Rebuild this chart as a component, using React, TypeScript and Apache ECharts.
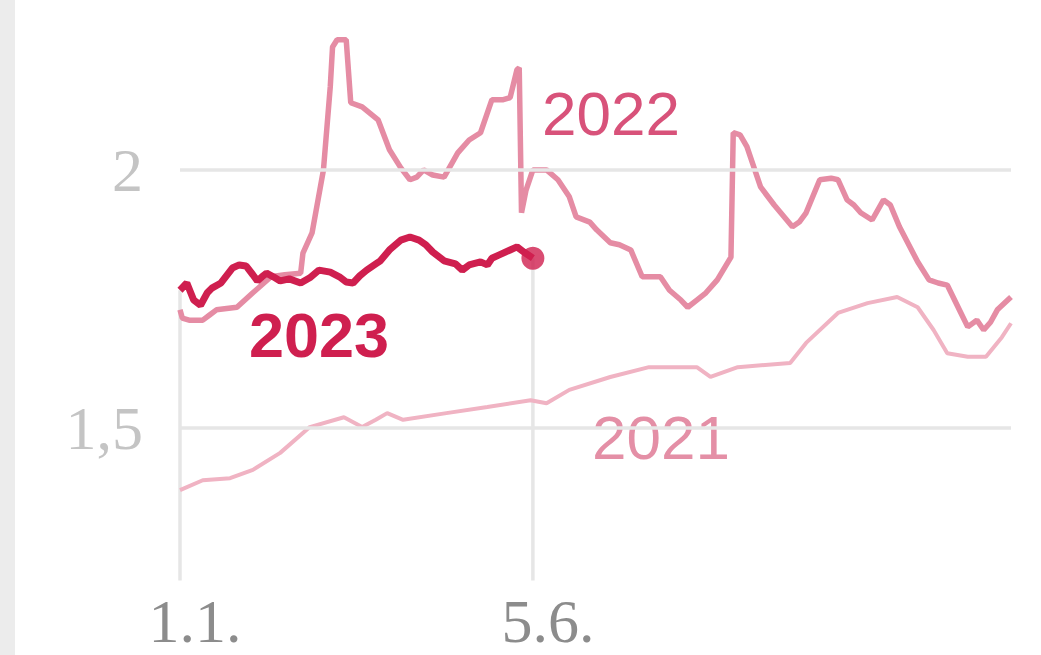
import React, { useEffect, useRef } from "react";
import * as echarts from "echarts";

// Day of year (0 = 1 Jan) and value
const days2023 = [0, 3, 6, 9, 12, 14, 18, 23, 26, 29, 32, 34, 36, 38, 41, 44, 48, 53, 57, 61, 66, 70, 73, 76, 79, 82, 86, 88, 92, 97, 101, 105, 108, 111, 116, 121, 124, 127, 132, 135, 137, 140, 145, 148, 151, 155];
const values2023 = [1.767, 1.781, 1.748, 1.738, 1.762, 1.771, 1.781, 1.81, 1.816, 1.814, 1.797, 1.785, 1.793, 1.8, 1.793, 1.785, 1.789, 1.781, 1.791, 1.806, 1.802, 1.793, 1.783, 1.781, 1.795, 1.806, 1.818, 1.824, 1.845, 1.864, 1.87, 1.864, 1.855, 1.841, 1.824, 1.818, 1.806, 1.816, 1.822, 1.816, 1.829, 1.835, 1.845, 1.851, 1.841, 1.829];

const days2022 = [0, 1, 4, 10, 13, 16, 25, 32, 40, 46, 53, 54, 58, 63, 66, 67, 69, 73, 75, 80, 87, 92, 97, 101, 104, 107, 111, 116, 122, 127, 132, 137, 142, 145, 148, 149, 150, 152, 155, 161, 166, 171, 174, 180, 183, 189, 193, 198, 203, 211, 215, 220, 223, 227, 231, 236, 242, 243, 246, 249, 255, 261, 269, 272, 275, 281, 286, 289, 293, 296, 299, 304, 309, 312, 316, 324, 329, 333, 337, 343, 346, 350, 353, 356, 359, 365];
const values2022 = [1.729, 1.713, 1.709, 1.709, 1.719, 1.729, 1.734, 1.762, 1.793, 1.797, 1.8, 1.839, 1.878, 2.0, 2.161, 2.238, 2.252, 2.252, 2.13, 2.122, 2.097, 2.039, 2.004, 1.981, 1.986, 2.0, 1.99, 1.986, 2.033, 2.058, 2.072, 2.136, 2.136, 2.14, 2.194, 2.198, 1.917, 1.961, 2.0, 2.0, 1.981, 1.948, 1.909, 1.899, 1.884, 1.859, 1.855, 1.845, 1.793, 1.793, 1.767, 1.748, 1.734, 1.748, 1.762, 1.787, 1.831, 2.072, 2.068, 2.045, 1.967, 1.932, 1.89, 1.899, 1.917, 1.981, 1.984, 1.981, 1.942, 1.932, 1.917, 1.903, 1.942, 1.932, 1.89, 1.822, 1.787, 1.781, 1.777, 1.723, 1.696, 1.709, 1.69, 1.705, 1.729, 1.754];

const days2021 = [0, 10, 22, 32, 44, 57, 72, 80, 86, 91, 98, 117, 135, 154, 161, 171, 189, 206, 227, 233, 245, 268, 275, 289, 302, 315, 324, 331, 337, 346, 354, 361, 365];
const values2021 = [1.38, 1.399, 1.403, 1.419, 1.452, 1.502, 1.521, 1.502, 1.516, 1.529, 1.516, 1.529, 1.541, 1.554, 1.548, 1.574, 1.599, 1.618, 1.618, 1.599, 1.618, 1.626, 1.665, 1.723, 1.742, 1.754, 1.734, 1.69, 1.645, 1.638, 1.638, 1.676, 1.703];

const xTickDays = [0, 155];
const xTickLabels = ["1.1.", "5.6."];
const yTickValues = [1.5, 2];
const yTickLabels = ["1,5", "2"];
const axisBottom = 1.205;

const pairs = (d: number[], v: number[]) => d.map((x, i) => [x, v[i]]);

export default function App() {
  const ref = useRef<HTMLDivElement>(null);
  useEffect(() => {
    if (!ref.current) return;
    const chart = echarts.init(ref.current, undefined, { renderer: "svg" });
    const d23 = pairs(days2023, values2023);
    const last23 = d23[d23.length - 1];
    const gridColor = "#e6e6e6";
    chart.setOption({
      animation: false,
      backgroundColor: "#ffffff",
      grid: { left: 180, right: 30, top: 15, bottom: 72 },
      xAxis: {
        type: "value",
        min: 0,
        max: 365,
        interval: 155,
        axisLine: { show: false },
        axisTick: { show: false },
        splitLine: { show: false },
        axisLabel: {
          margin: 16,
          padding: [0, 0, 0, 30],
          color: "#8c8c8c",
          fontFamily: "Liberation Serif",
          fontSize: 62,
          lineHeight: 44,
          formatter: (val: number) => {
            const i = xTickDays.indexOf(val);
            return i >= 0 ? xTickLabels[i] : "";
          },
        },
      },
      yAxis: { type: "value", min: 1.2, max: 2.3, show: false },
      series: [
        {
          type: "line",
          data: [[xTickDays[0], axisBottom], [xTickDays[0], values2023[0]]],
          symbol: "none",
          lineStyle: { color: gridColor, width: 3.5 },
          silent: true,
          z: 1,
          markLine: {
            silent: true,
            symbol: "none",
            lineStyle: { color: gridColor, width: 3.5, type: "solid" },
            label: {
              position: "start",
              distance: 37,
              color: "#c4c4c4",
              fontFamily: "Liberation Serif",
              fontSize: 62,
              formatter: (p: any) => {
                const i = yTickValues.indexOf(p.value);
                return i >= 0 ? yTickLabels[i] : "";
              },
            },
            data: yTickValues.map((v) => ({ yAxis: v })),
          },
        },
        {
          type: "line",
          data: [[xTickDays[1], axisBottom], [xTickDays[1], last23[1]]],
          symbol: "none",
          lineStyle: { color: gridColor, width: 3.5 },
          silent: true,
          z: 1,
        },
        {
          name: "2021",
          type: "line",
          data: pairs(days2021, values2021),
          symbol: "none",
          lineStyle: { color: "#f0b3c3", width: 4 },
          z: 2,
        },
        {
          name: "2022",
          type: "line",
          data: pairs(days2022, values2022),
          symbol: "none",
          lineStyle: { color: "#e58ca4", width: 5.5 },
          z: 3,
        },
        {
          name: "2023",
          type: "line",
          data: d23,
          symbol: "none",
          lineStyle: { color: "#cf1f4f", width: 7 },
          z: 4,
        },
        {
          type: "scatter",
          data: [last23],
          symbol: "circle",
          symbolSize: 23,
          itemStyle: { color: "#cf1f4f" },
          z: 5,
        },
      ],
      graphic: [
        { type: "rect", left: 0, top: 0, shape: { width: 15, height: 655 }, style: { fill: "#ececec" }, silent: true },
        {
          type: "text",
          x: 542,
          y: 113,
          style: { text: "2022", fill: "#d8527a", font: "62px 'Liberation Sans'", textVerticalAlign: "middle" },
        },
        {
          type: "text",
          x: 249,
          y: 335,
          style: { text: "2023", fill: "#cf1f4f", font: "bold 63px 'Liberation Sans'", textVerticalAlign: "middle" },
        },
        {
          type: "text",
          x: 592,
          y: 437,
          style: { text: "2021", fill: "#e48fa6", font: "62px 'Liberation Sans'", textVerticalAlign: "middle" },
        },
      ],
    });
    return () => chart.dispose();
  }, []);
  return <div ref={ref} style={{ position: "fixed", left: 0, top: 0, width: 1041, height: 655 }} />;
}
